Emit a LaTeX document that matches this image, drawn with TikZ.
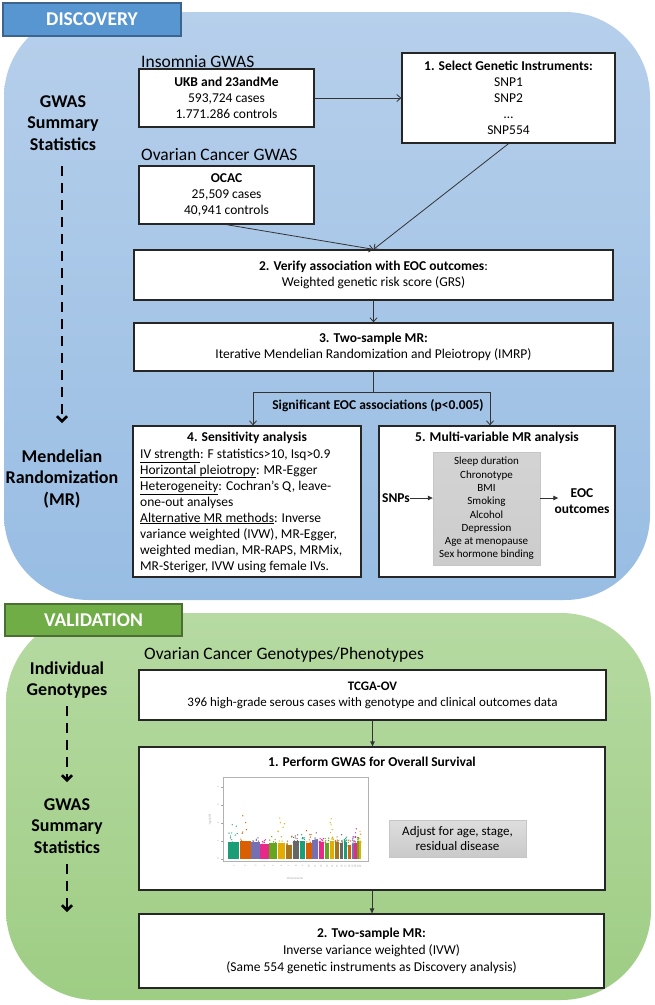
\documentclass[tikz,border=0pt]{standalone}
\usepackage{fontspec}
\setmainfont{Carlito}
\usetikzlibrary{arrows.meta,calc}
\newcommand{\myfs}[2]{\fontsize{#1}{#2}\selectfont}
\definecolor{bluetop}{RGB}{182,207,235}
\definecolor{bluebot}{RGB}{152,189,227}
\definecolor{bluetab}{RGB}{88,150,210}
\definecolor{bluetabline}{RGB}{60,100,140}
\definecolor{greentop}{RGB}{182,218,162}
\definecolor{greenbot}{RGB}{158,205,132}
\definecolor{greentab}{RGB}{112,173,71}
\definecolor{greentabline}{RGB}{75,110,50}
\definecolor{c1}{HTML}{1B9E77}
\definecolor{c2}{HTML}{D95F02}
\definecolor{c3}{HTML}{7570B3}
\definecolor{c4}{HTML}{E7298A}
\definecolor{c5}{HTML}{66A61E}
\definecolor{c6}{HTML}{E6AB02}
\definecolor{c7}{HTML}{A6761D}
\definecolor{c8}{HTML}{666666}
\tikzset{
  box/.style={draw=black!85, line width=1.3pt, fill=white, inner sep=0pt, align=center, font=\myfs{13.5}{16}},
  graybox/.style={draw=gray!45, line width=0.4pt, top color=gray!26, bottom color=gray!42, inner sep=0pt, align=center},
  hd/.style={font=\myfs{17.5}{21}, inner sep=0pt, anchor=west},
  side/.style={font=\myfs{18}{21.5}\bfseries, align=center, inner sep=0pt},
  tab/.style={line width=1.3pt, inner sep=0pt, text=white, font=\myfs{19.5}{22}\bfseries},
  txt/.style={font=\myfs{13.5}{16}, inner sep=0pt, align=center},
  arr/.style={draw=black!80, line width=0.8pt, -{Straight Barb[length=4pt,width=7pt]}},
  arrf/.style={draw=black!80, line width=0.8pt, -{Triangle[length=5pt,width=4.5pt]}},
  dasharr/.style={draw=black, line width=2.6pt, dash pattern=on 10pt off 7pt, -{Straight Barb[length=5pt,width=10pt]}},
  tiny/.style={font=\myfs{2.6}{3}, text=gray!75, inner sep=0pt},
}
\begin{document}
\begin{tikzpicture}[x=1pt,y=-1pt]
\useasboundingbox (0,0) rectangle (654,1005);
% ================= DISCOVERY =================
\shade[top color=bluetop, bottom color=bluebot, rounded corners=85pt] (4,12) rectangle (650,600);
\node[tab, fill=bluetab, draw=bluetabline, minimum width=178pt, minimum height=33pt] (disc) at (92,19.5) {DISCOVERY};

\node[side] (gss) at (63,123) {GWAS\\Summary\\Statistics};
\node[side] (mr) at (62,479) {Mendelian\\Randomization\\(MR)};
\coordinate (d1a) at (62,166);
\coordinate (d1b) at (62,423);
\draw[dasharr] (d1a) -- (d1b);

\node[hd] (insh) at (141,62) {Insomnia GWAS};
\node[box, minimum width=175pt, minimum height=58pt] (ukb) at (226.5,98)
  {\textbf{UKB and 23andMe}\\593,724 cases\\1.771.286 controls};
\node[hd] (ovh) at (141,155) {Ovarian Cancer GWAS};
\node[box, minimum width=175pt, minimum height=58pt] (ocac) at (226.5,195)
  {\textbf{OCAC}\\25,509 cases\\40,941 controls};
\node[box, minimum width=213pt, minimum height=90pt] (sel) at (508.5,98)
  {\textbf{1. Select Genetic Instruments:}\\SNP1\\SNP2\\…\\SNP554};
\node[box, minimum width=479pt, minimum height=50pt] (ver) at (373.5,275)
  {\textbf{2. Verify association with EOC outcomes}:\\Weighted genetic risk score (GRS)};
\node[box, minimum width=479pt, minimum height=48pt] (two) at (373.5,347)
  {\textbf{3. Two-sample MR:}\\Iterative Mendelian Randomization and Pleiotropy (IMRP)};

\draw[arr] (ukb.east) -- (ukb.east -| sel.west);
\draw[arr] (ocac.south) -- (ver.north);
\draw[arr] (sel.south) -- (ver.north);
\draw[arr] (ver.south) -- (two.north);

\coordinate (split) at (373.5,392);
\coordinate (sl) at (253,392);
\coordinate (sr) at (490,392);
\draw[draw=black!80, line width=0.8pt] (two.south) -- (split);
\draw[draw=black!80, line width=0.8pt] (sl) -- (sr);
\node[txt, font=\myfs{13.5}{16}\bfseries] (sig) at (378,406) {Significant EOC associations (p<0.005)};

\node[box, minimum width=228pt, minimum height=151pt] (sens) at (247,501.5) {};
\node[txt, font=\myfs{13.5}{16}\bfseries] (senst) at (247,438) {4. Sensitivity analysis};
\node[txt, align=left, anchor=west] (sensb) at (140,510.5)
  {\underline{IV strength}: F statistics>10, Isq>0.9\\
   \underline{Horizontal pleiotropy}: MR-Egger\\
   \underline{Heterogeneity}: Cochran’s Q, leave-\\
   one-out analyses\\
   \underline{Alternative MR methods}: Inverse\\
   variance weighted (IVW), MR-Egger,\\
   weighted median, MR-RAPS, MRMix,\\
   MR-Steriger, IVW using female IVs.};

\node[box, minimum width=236pt, minimum height=151pt] (multi) at (497,501.5) {};
\node[txt, font=\myfs{13.5}{16}\bfseries] (multit) at (497,438) {5. Multi-variable MR analysis};
\node[graybox, font=\myfs{11}{13.3}, minimum width=107pt, minimum height=113pt, top color=gray!34, bottom color=gray!40] (gray) at (486.5,508.5)
  {Sleep duration\\Chronotype\\BMI\\Smoking\\Alcohol\\Depression\\Age at menopause\\Sex hormone binding};
\node[txt, font=\myfs{13.5}{16}\bfseries] (snps) at (396,498) {SNPs};
\node[txt, font=\myfs{13.5}{15.5}\bfseries] (eoc) at (582,501) {EOC\\outcomes};
\draw[arrf] (snps.east) -- (snps.east -| gray.west);
\draw[arrf] (gray.east |- snps.east) -- ($(eoc.west |- snps.east)+(4,0)$);

\draw[arr] (sl) -- (sl |- sens.north);
\draw[arr] (sr) -- (sr |- multi.north);

% ================= VALIDATION =================
\shade[top color=greentop, bottom color=greenbot, rounded corners=90pt] (6,613) rectangle (651,1000);
\node[tab, fill=greentab, draw=greentabline, minimum width=177pt, minimum height=32pt] (vali) at (93.5,620) {VALIDATION};

\node[side] (indg) at (67,680) {Individual\\Genotypes};
\node[side] (gss2) at (67,826) {GWAS\\Summary\\Statistics};
\coordinate (d2a) at (67,706);
\coordinate (d2b) at (67,782);
\coordinate (d3a) at (67,864);
\coordinate (d3b) at (67,912);
\draw[dasharr] (d2a) -- (d2b);
\draw[dasharr] (d3a) -- (d3b);

\node[hd] (ovg) at (144,655) {Ovarian Cancer Genotypes/Phenotypes};
\node[box, font=\myfs{13}{16}, minimum width=467pt, minimum height=50pt] (tcga) at (372.5,695)
  {\textbf{TCGA-OV}\\396 high-grade serous cases with genotype and clinical outcomes data};
\node[box, minimum width=466pt, minimum height=143pt] (gwas) at (372,818.5) {};
\node[txt, font=\myfs{13.5}{16}\bfseries] (gwast) at (372,762) {1. Perform GWAS for Overall Survival};
\node[graybox, font=\myfs{13}{14.5}, minimum width=137pt, minimum height=37pt] (adj) at (457.5,838.5)
  {Adjust for age, stage,\\residual disease};
\node[box, font=\myfs{13.5}{17}, minimum width=465pt, minimum height=74pt] (bot) at (371.5,951)
  {\textbf{2. Two-sample MR:}\\Inverse variance weighted (IVW)\\(Same 554 genetic instruments as Discovery analysis)};
\draw[arrf] (tcga.south) -- (tcga.south |- gwas.north);
\draw[arrf] (gwas.south) -- (gwas.south |- bot.north);

% Manhattan plot
\draw[gray!60, line width=0.5pt] (223,777) rectangle (368,861);
\foreach \v/\yy in {0/859,1/841,2/823,3/805,4/787}{
  \draw[gray!70, line width=0.3pt] (223,\yy) -- (220.5,\yy);
  \node[tiny, rotate=90] (yt\v) at (218,\yy) {\v};
}
\node[tiny, rotate=90, font=\myfs{3}{3.5}] (ylab) at (210,820) {-log10(P)};
\node[tiny, font=\myfs{3}{3.5}] (xlab) at (295,878) {Chromosome};
\pgfmathsetseed{11}
\foreach \xs/\w/\c/\sp [count=\i] in {228/11.6/c1/20, 239.6/11.3/c2/30, 250.9/9.2/c3/8, 260.1/8.8/c4/8,
  268.9/8.4/c5/12, 277.3/7.9/c6/28, 285.2/7.4/c7/10, 292.6/6.7/c8/12, 299.3/6.4/c1/8,
  305.7/6.2/c2/14, 311.9/6.3/c3/10, 318.2/6.2/c4/10, 324.4/5.3/c5/8, 329.7/5.0/c6/24,
  334.7/4.7/c7/10, 339.4/4.2/c8/10, 343.6/3.9/c1/6, 347.5/3.7/c2/6, 351.2/2.7/c3/8,
  353.9/3.0/c4/22, 356.9/2.2/c5/8, 359.1/2.4/c6/12}{
  \pgfmathsetmacro{\h}{14+5*rnd}
  \fill[\c] (\xs+0.3,859) rectangle (\xs+\w-0.3,859-\h);
  \foreach \k in {1,...,10}{
    \pgfmathsetmacro{\rr}{rnd}
    \pgfmathsetmacro{\px}{\xs+0.6+(\w-1.2)*rnd}
    \pgfmathsetmacro{\py}{859-\h+1-\sp*\rr*\rr}
    \fill[\c] (\px,\py) circle (0.7pt);
  }
  \node[tiny, rotate=90] (xt\i) at (\xs+\w/2,866) {\i};
}
\end{tikzpicture}
\end{document}
